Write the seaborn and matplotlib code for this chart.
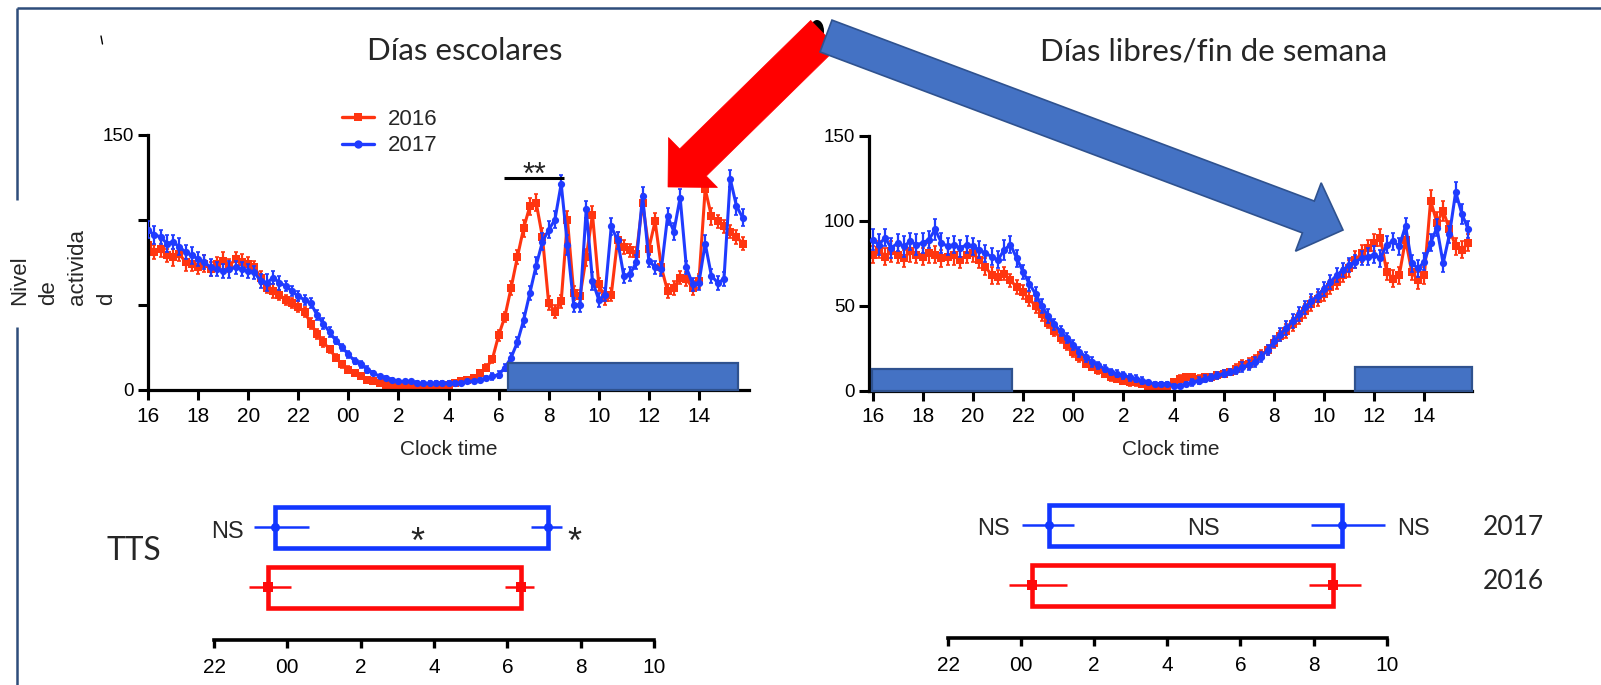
import numpy as np
import pandas as pd
import matplotlib
matplotlib.use("Agg")
import matplotlib.pyplot as plt
import seaborn as sns
from matplotlib.patches import Rectangle, Polygon, Ellipse
from matplotlib.lines import Line2D

# ------------------------------------------------------------------ data
# 15-min bins from 16:00 to 15:45 of the next day (hours since midnight of day 1)
hours = np.arange(16, 40, 0.25)
xtick_hours = [16, 18, 20, 22, 24, 26, 28, 30, 32, 34, 36, 38]
xtick_labels = ['16', '18', '20', '22', '00', '2', '4', '6', '8', '10', '12', '14']

school_2016 = [85, 81, 83, 79, 78, 80, 75, 74,
               72, 74, 71, 74, 76, 73, 77, 75,
               74, 72, 66, 60, 58, 56, 53, 51,
               49, 46, 39, 33, 28, 24, 19, 15,
               12, 10, 8, 6, 5, 4, 3, 3,
               2, 2, 2, 2, 2, 2, 2, 3,
               3, 4, 5, 6, 7, 10, 13, 18,
               32, 43, 60, 78, 95, 108, 110, 90,
               51, 46, 52, 100, 57, 55, 78, 103,
               62, 54, 56, 88, 84, 82, 80, 110,
               83, 99, 72, 58, 60, 66, 65, 60,
               64, 118, 102, 99, 96, 93, 90, 86]
school_2016_sem = [5, 4, 5, 4, 5, 4, 5, 4,
                   4, 5, 4, 4, 5, 4, 4, 5,
                   4, 4, 4, 3, 4, 3, 3, 3,
                   3, 3, 3, 3, 3, 2, 2, 2,
                   2, 2, 1, 1, 1, 1, 1, 1,
                   1, 1, 1, 1, 1, 1, 1, 1,
                   1, 1, 1, 1, 1, 2, 2, 2,
                   3, 3, 4, 4, 5, 5, 5, 5,
                   4, 4, 4, 5, 4, 4, 5, 5,
                   4, 4, 4, 5, 4, 4, 4, 5,
                   4, 5, 4, 4, 4, 4, 4, 4,
                   4, 5, 5, 4, 4, 4, 4, 4]
school_2017 = [94, 91, 90, 86, 87, 84, 81, 79,
               77, 75, 72, 71, 70, 71, 72, 71,
               70, 69, 64, 63, 66, 63, 61, 58,
               55, 53, 51, 44, 39, 34, 29, 25,
               21, 17, 15, 12, 10, 8, 7, 6,
               5, 5, 5, 4, 4, 4, 4, 4,
               4, 4, 4, 5, 5, 6, 7, 8,
               9, 13, 19, 28, 41, 57, 73, 87,
               94, 100, 121, 85, 50, 50, 106, 64,
               53, 56, 96, 88, 67, 68, 75, 114,
               76, 72, 71, 102, 93, 113, 72, 62,
               63, 86, 67, 63, 65, 124, 108, 101]
school_2017_sem = [5, 5, 4, 5, 4, 5, 4, 5,
                   4, 4, 5, 4, 4, 5, 4, 4,
                   4, 4, 4, 5, 4, 4, 3, 3,
                   3, 3, 3, 3, 3, 3, 2, 2,
                   2, 2, 2, 2, 1, 1, 1, 1,
                   1, 1, 1, 1, 1, 1, 1, 1,
                   1, 1, 1, 1, 1, 1, 1, 2,
                   2, 2, 3, 3, 4, 4, 5, 5,
                   5, 5, 5, 6, 4, 4, 5, 5,
                   4, 4, 5, 5, 4, 4, 4, 5,
                   4, 4, 4, 5, 5, 5, 4, 4,
                   4, 5, 4, 4, 4, 5, 5, 5]
weekend_2016 = [80, 83, 79, 82, 80, 78, 82, 80,
                79, 81, 80, 78, 79, 80, 77, 80,
                81, 77, 73, 68, 67, 69, 65, 61,
                58, 54, 50, 45, 40, 35, 31, 27,
                23, 20, 16, 14, 12, 10, 8, 7,
                6, 5, 5, 4, 3, 3, 2, 3,
                5, 7, 8, 8, 7, 8, 8, 9,
                10, 11, 13, 15, 16, 18, 21, 24,
                28, 32, 35, 39, 43, 47, 51, 54,
                57, 61, 64, 68, 72, 77, 81, 84,
                87, 90, 70, 66, 68, 89, 70, 65,
                68, 112, 99, 106, 95, 85, 83, 87]
weekend_2016_sem = [5, 5, 5, 6, 5, 5, 6, 5,
                    5, 6, 5, 5, 5, 6, 5, 5,
                    5, 5, 5, 5, 4, 4, 4, 4,
                    4, 4, 4, 4, 3, 3, 3, 3,
                    3, 3, 2, 2, 2, 2, 2, 2,
                    2, 2, 2, 1, 1, 1, 1, 1,
                    2, 2, 2, 2, 2, 2, 2, 2,
                    2, 2, 3, 3, 3, 3, 3, 3,
                    3, 3, 4, 4, 4, 4, 4, 4,
                    4, 4, 4, 4, 5, 5, 5, 5,
                    5, 5, 5, 5, 5, 5, 5, 5,
                    5, 6, 6, 6, 5, 5, 5, 5]
weekend_2017 = [89, 86, 90, 84, 87, 85, 88, 86,
                87, 89, 95, 87, 85, 86, 84, 86,
                85, 83, 81, 79, 77, 83, 86, 78,
                70, 63, 57, 50, 44, 39, 35, 31,
                27, 23, 20, 17, 15, 13, 11, 10,
                9, 8, 7, 6, 5, 4, 4, 4,
                3, 3, 4, 5, 6, 7, 8, 9,
                10, 11, 12, 14, 15, 17, 20, 24,
                29, 33, 37, 41, 45, 49, 53, 56,
                60, 64, 68, 71, 74, 76, 78, 79,
                80, 78, 86, 88, 85, 97, 75, 72,
                76, 87, 96, 75, 92, 117, 104, 95]
weekend_2017_sem = [6, 6, 5, 6, 5, 6, 5, 6,
                    6, 5, 6, 6, 5, 5, 5, 5,
                    5, 5, 5, 5, 5, 6, 5, 5,
                    4, 4, 4, 4, 4, 3, 3, 3,
                    3, 3, 3, 3, 2, 2, 2, 2,
                    2, 2, 2, 2, 1, 1, 1, 1,
                    1, 1, 1, 2, 2, 2, 2, 2,
                    2, 2, 2, 3, 3, 3, 3, 3,
                    3, 4, 4, 4, 4, 4, 4, 4,
                    4, 4, 4, 4, 4, 4, 4, 5,
                    5, 5, 5, 5, 5, 5, 5, 5,
                    5, 5, 5, 5, 5, 6, 6, 5]

# school / free-day schedule bars (start hour, end hour, height)
school_bar = [(30.37, 39.57, 16)]
weekend_bars = [(15.96, 21.56, 12.5), (35.24, 39.9, 14)]

# Total sleep time (clock hours relative to midnight): onset/offset, SEM low/high
years = ['2017', '2016']
school_onset = [-0.34, -0.53]
school_onset_lo = [0.57, 0.52]
school_onset_hi = [0.92, 0.63]
school_offset = [7.12, 6.37]
school_offset_lo = [0.48, 0.44]
school_offset_hi = [0.36, 0.35]
weekend_onset = [0.75, 0.31]
weekend_onset_lo = [0.73, 0.65]
weekend_onset_hi = [0.71, 0.94]
weekend_offset = [8.77, 8.53]
weekend_offset_lo = [0.84, 0.64]
weekend_offset_hi = [1.19, 0.77]
tts_ticks = [-2, 0, 2, 4, 6, 8, 10]
tts_ticklabels = ['22', '00', '2', '4', '6', '8', '10']

# ------------------------------------------------------------------ style
sns.set_style("ticks")
plt.rcParams['font.family'] = ['Liberation Sans', 'DejaVu Sans']
CAL = ['Lato', 'DejaVu Sans']

RED = '#FF3510'
BLUE = '#1F3BFF'
BOX_RED = '#FF0A0A'
BOX_BLUE = '#1236FF'
SCHED_FILL = '#4472C4'
SCHED_EDGE = '#2F528F'
FRAME = '#2E4D7B'

W, H = 1601, 685
fig = plt.figure(figsize=(W / 100, H / 100), dpi=100)


def px_axes(x0, y0, x1, y1):
    return fig.add_axes([x0 / W, 1 - y1 / H, (x1 - x0) / W, (y1 - y0) / H])


def draw_activity(ax, v16, e16, v17, e17, bars, xlim, ylabels):
    for vals, errs, col, mk, z in [(v16, e16, RED, 's', 2), (v17, e17, BLUE, 'o', 3)]:
        ax.errorbar(hours, vals, yerr=errs, fmt='none', ecolor=col, elinewidth=1.6,
                    capsize=1.2, capthick=1.2, zorder=z)
        sns.lineplot(x=hours, y=np.array(vals, float), ax=ax, color=col, marker=mk,
                     markersize=5.2, markeredgewidth=0, linewidth=2.2, errorbar=None,
                     zorder=z + 0.5, legend=False)
    for s, e, h in bars:
        ax.add_patch(Rectangle((s, 0), e - s, h, facecolor=SCHED_FILL, edgecolor=SCHED_EDGE,
                               lw=1.6, zorder=6, clip_on=False))
    ax.set_xlim(*xlim)
    ax.set_ylim(0, 150)
    ax.set_xticks(xtick_hours)
    ax.set_xticklabels(xtick_labels)
    ax.set_yticks([0, 50, 100, 150])
    ax.set_yticklabels(ylabels)
    for sp in ['top', 'right']:
        ax.spines[sp].set_visible(False)
    for sp in ['left', 'bottom']:
        ax.spines[sp].set_linewidth(2.3)
        ax.spines[sp].set_color('black')
    ax.tick_params(axis='both', direction='out', length=7, width=2.2, colors='black',
                   bottom=True, left=True)
    ax.tick_params(axis='x', labelsize=15, pad=5)
    ax.tick_params(axis='y', labelsize=13.5, pad=3)
    ax.set_xlabel('Clock time', fontsize=15, labelpad=10)
    ax.set_ylabel('')
    ax.patch.set_alpha(0)


ax1 = px_axes(148, 134.5, 749, 390)
draw_activity(ax1, school_2016, school_2016_sem, school_2017, school_2017_sem,
              school_bar, (16, 40), ['0', '', '', '150'])
ax2 = px_axes(869, 136, 1472, 390.7)
draw_activity(ax2, weekend_2016, weekend_2016_sem, weekend_2017, weekend_2017_sem,
              weekend_bars, (15.86, 39.9), ['0', '50', '100', '150'])

# significance bracket on school days
ax1.plot([30.22, 32.6], [124.5, 124.5], color='black', lw=2.2, solid_capstyle='butt', zorder=7)
ax1.text(31.42, 121.0, '**', ha='center', va='baseline', fontsize=22, zorder=7)

# legend
handles = [Line2D([], [], color=RED, marker='s', markersize=6, lw=2.4, markeredgewidth=0),
           Line2D([], [], color=BLUE, marker='o', markersize=6, lw=2.4, markeredgewidth=0)]
fig.legend(handles, ['2016', '2017'], loc='center', bbox_to_anchor=(390 / W, 1 - 132.5 / H),
           frameon=False, fontsize=16, handlelength=1.4, handletextpad=0.65,
           labelspacing=0.25, borderpad=0)


# ------------------------------------------------------------------ TTS panels
def draw_tts(ax, onset, on_lo, on_hi, offset, off_lo, off_hi):
    rows = [1, 0]
    for i, yr in enumerate(years):
        col = BOX_BLUE if yr == '2017' else BOX_RED
        mk = 'o' if yr == '2017' else 's'
        r = rows[i]
        ax.add_patch(Rectangle((onset[i], r - 0.34), offset[i] - onset[i], 0.68, fill=False,
                               edgecolor=col, lw=3.3, zorder=3, clip_on=False))
        ax.errorbar([onset[i], offset[i]], [r, r],
                    xerr=[[on_lo[i], off_lo[i]], [on_hi[i], off_hi[i]]],
                    fmt=mk, color=col, ms=6.5, mew=0, elinewidth=1.8, capsize=4.6,
                    capthick=1.8, zorder=4, clip_on=False)
    ax.set_xlim(-2, 10)
    ax.set_ylim(-0.875, 1.458)
    ax.set_xticks(tts_ticks)
    ax.set_xticklabels(tts_ticklabels)
    ax.set_yticks([])
    for sp in ['top', 'right', 'left']:
        ax.spines[sp].set_visible(False)
    ax.spines['bottom'].set_linewidth(2.6)
    ax.spines['bottom'].set_color('black')
    ax.tick_params(axis='x', direction='out', length=6, width=2.4, labelsize=15, pad=7,
                   colors='black', bottom=True)
    ax.tick_params(axis='y', left=False)
    ax.patch.set_alpha(0)


ax3 = px_axes(214, 500, 654, 640)
draw_tts(ax3, school_onset, school_onset_lo, school_onset_hi,
         school_offset, school_offset_lo, school_offset_hi)
ax4 = px_axes(948, 498, 1386.6, 638)
draw_tts(ax4, weekend_onset, weekend_onset_lo, weekend_onset_hi,
         weekend_offset, weekend_offset_lo, weekend_offset_hi)

# annotations of the TTS panels
ax3.text(school_onset[0] - school_onset_lo[0] - 0.27, 0.82, 'NS', ha='right', va='baseline',
         fontsize=17, clip_on=False)
ax3.text(3.56, 0.58, '*', ha='center', va='baseline', fontsize=26)
ax3.text(7.84, 0.58, '*', ha='center', va='baseline', fontsize=26, clip_on=False)
ax4.text(weekend_onset[0] - weekend_onset_lo[0] - 0.34, 0.84, 'NS', ha='right', va='baseline',
         fontsize=17, clip_on=False)
ax4.text(5.0, 0.84, 'NS', ha='center', va='baseline', fontsize=17)
ax4.text(10.28, 0.84, 'NS', ha='left', va='baseline', fontsize=17, clip_on=False)
ax4.text(13.46, 0.84, '2017', ha='center', va='baseline', fontsize=19, family=CAL, clip_on=False)
ax4.text(13.46, -0.053, '2016', ha='center', va='baseline', fontsize=19, family=CAL, clip_on=False)

# ------------------------------------------------------------------ figure texts
fig.text(464.6 / W, 1 - 60 / H, 'Días escolares', ha='center', va='baseline',
         fontsize=22.5, family=CAL)
fig.text(1213.4 / W, 1 - 60 / H, 'Días libres/fin de semana', ha='center', va='baseline',
         fontsize=22.5, family=CAL)
fig.text(133.5 / W, 1 - 560 / H, 'TTS', ha='center', va='baseline', fontsize=22.8, family=CAL)
fig.text(63 / W, 1 - 305 / H, 'Nivel\nde\nactivida\nd', rotation=90, ha='center',
         va='bottom', multialignment='left', fontsize=16, linespacing=1.5)

# ------------------------------------------------------------------ overlay: frame & arrows
ov = fig.add_axes([0, 0, 1, 1], zorder=20)
ov.set_xlim(0, W)
ov.set_ylim(H, 0)
ov.axis('off')
ov.patch.set_alpha(0)

ov.plot([17, W], [8, 8], color=FRAME, lw=1.8, solid_capstyle='butt')
ov.plot([17, 17], [8, 200], color=FRAME, lw=1.8, solid_capstyle='butt')
ov.plot([17, 17], [327, H], color=FRAME, lw=1.8, solid_capstyle='butt')
ov.plot([101, 102.5], [36, 44], color='black', lw=1.0)


def block_arrow(tail, tip, shaft_w, head_w, head_l):
    tail = np.array(tail, float)
    tip = np.array(tip, float)
    d = tip - tail
    u = d / np.hypot(*d)
    n = np.array([-u[1], u[0]])
    base = tip - u * head_l
    return [tail + n * shaft_w / 2, base + n * shaft_w / 2, base + n * head_w / 2, tip,
            base - n * head_w / 2, base - n * shaft_w / 2, tail - n * shaft_w / 2]


ov.add_patch(Ellipse((817, 31), 14, 22, facecolor='black', edgecolor='none', zorder=1))
ov.add_patch(Polygon(block_arrow((824, 34), (668, 187), 38, 70, 35), closed=True,
                     facecolor='#FF0000', edgecolor='#FF0000', lw=0.5, zorder=2))
ov.add_patch(Polygon(block_arrow((826, 36), (1343, 230), 34, 73, 37), closed=True,
                     facecolor=SCHED_FILL, edgecolor=SCHED_EDGE, lw=1.2, zorder=3))

fig.savefig('out.png', dpi=100)
